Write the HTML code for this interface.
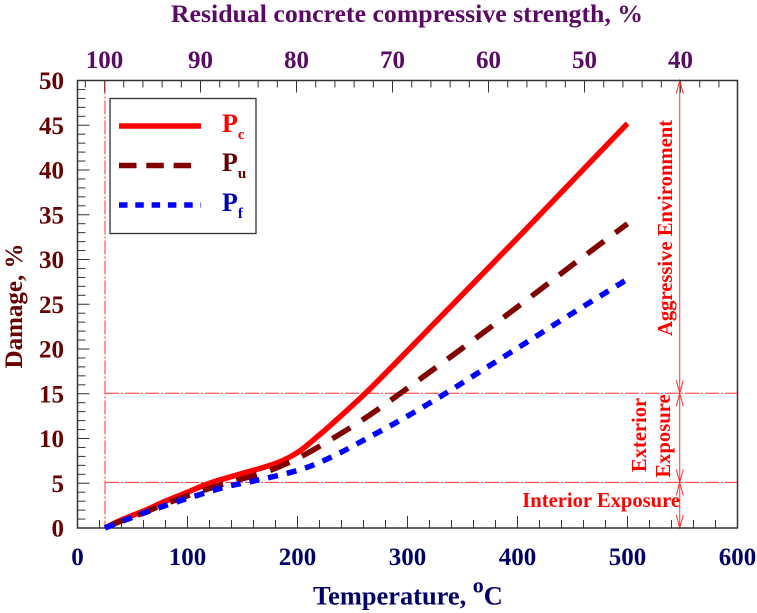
<!DOCTYPE html>
<html><head><meta charset="utf-8"><title>Damage vs temperature</title>
<style>html,body{margin:0;padding:0;background:#fff}svg{display:block;font-family:"Liberation Serif",serif;font-weight:bold}</style>
</head><body>
<svg id="chart" width="757" height="613" viewBox="0 0 757 613" xmlns="http://www.w3.org/2000/svg">
<g id="ticks"></g>
<g id="refs" fill="none" stroke="#ff3030" stroke-width="1"></g>
<rect x="77.5" y="80.5" width="660" height="447.5" fill="none" stroke="#333" stroke-width="1.5"/>
<g id="series" fill="none"></g>
<g id="labels" font-size="25"></g>
<text x="407" y="22" font-size="25.8" text-anchor="middle" fill="#5a0a64">Residual concrete compressive strength, %</text>
<text x="313" y="604.5" font-size="26.4" fill="#000066">Temperature, <tspan font-size="22" dy="-12">o</tspan><tspan dy="12">C</tspan></text>
<text transform="translate(22,306) rotate(-90)" font-size="25" text-anchor="middle" fill="#660000">Damage, %</text>
<text transform="translate(672,228) rotate(-90)" font-size="20.6" text-anchor="middle" fill="#ff0000">Aggressive Environment</text>
<text transform="translate(646,435) rotate(-90)" font-size="20.6" text-anchor="middle" fill="#ff0000">Exterior</text>
<text transform="translate(670,436) rotate(-90)" font-size="20.6" text-anchor="middle" fill="#ff0000">Exposure</text>
<text x="680" y="507" font-size="20.6" text-anchor="end" fill="#ff0000">Interior Exposure</text>
<g>
<rect x="110" y="98.5" width="146" height="135" fill="#fff" stroke="#333" stroke-width="1.3"/>
<line x1="119" y1="126" x2="201" y2="126" stroke="#ff0000" stroke-width="5.5"/>
<line x1="119" y1="165.5" x2="192" y2="165.5" stroke="#800000" stroke-width="5.5" stroke-dasharray="17.5 9.8"/>
<line x1="119" y1="205" x2="201" y2="205" stroke="#0000ff" stroke-width="5.5" stroke-dasharray="8.5 7.8"/>
<text x="222" y="132" font-size="26" fill="#ff0000">P<tspan font-size="15" dy="7">c</tspan></text>
<text x="222" y="171" font-size="26" fill="#660000">P<tspan font-size="15" dy="7">u</tspan></text>
<text x="222" y="211" font-size="26" fill="#0000b0">P<tspan font-size="15" dy="7">f</tspan></text>
</g>
</svg>
<script>
const temperatureC = [25, 40, 60, 80, 100, 120, 150, 170, 186, 202, 216, 232, 263, 300, 350, 400, 450, 500];
const seriesPc = [0, 0.9, 1.9, 3.0, 4.0, 5.0, 6.1, 6.8, 7.5, 8.6, 10.0, 11.7, 15.2, 19.8, 26.1, 32.4, 38.8, 45.2];
const temperaturePu = [25, 40, 60, 80, 100, 130, 172, 202, 232, 263, 293, 350, 400, 450, 500];
const seriesPu = [0, 0.8, 1.7, 2.7, 3.6, 4.8, 6.3, 7.9, 10.0, 12.4, 15.0, 20.1, 24.7, 29.4, 34.0];
const temperaturePf = [25, 50, 75, 105, 135, 160, 202, 232, 263, 300, 334, 365, 400, 450, 500];
const seriesPf = [0, 1.2, 2.3, 3.5, 4.6, 5.25, 6.5, 8.0, 10.0, 12.5, 15.0, 17.4, 20.1, 24.0, 27.8];
const xTicks = [0, 100, 200, 300, 400, 500, 600];
const yTicks = [0, 5, 10, 15, 20, 25, 30, 35, 40, 45, 50];
const topTicks = [100, 90, 80, 70, 60, 50, 40];
const limitLevels = [5.1, 15.05];
const exposureArrowTemp = 547.5;
const referenceTemp = 25;

const NS = 'http://www.w3.org/2000/svg';
const sx = t => 77.5 + t * 1.1;
const sy = v => 528 - v * 8.95;
const st = s => 104.5 + (100 - s) * 9.6;

function mk(parent, tag) {
  const el = document.createElementNS(NS, tag);
  parent.appendChild(el);
  return el;
}
function seg(parent, x1, y1, x2, y2) {
  const l = mk(parent, 'line');
  l.setAttribute('x1', x1); l.setAttribute('y1', y1);
  l.setAttribute('x2', x2); l.setAttribute('y2', y2);
  return l;
}
function label(parent, x, y, txt, fill, anchor) {
  const t = mk(parent, 'text');
  t.setAttribute('x', x); t.setAttribute('y', y);
  t.setAttribute('fill', fill); t.setAttribute('text-anchor', anchor);
  t.textContent = txt;
  return t;
}
const gt = document.getElementById('ticks');
gt.setAttribute('stroke', '#333');
gt.setAttribute('stroke-width', '1');
for (let t = 0; t <= 600; t += 20) {
  const major = t % 100 === 0;
  const l = seg(gt, sx(t), 528, sx(t), 528 - (major ? 12 : 8));
  
  
}
for (let v = 0; v <= 50; v += 1) {
  const major = v % 5 === 0;
  const l = seg(gt, 77.5, sy(v), 77.5 + (major ? 12 : 8), sy(v));
  
  
}
for (let s = 102; s >= 36; s -= 2) {
  const major = s % 10 === 0;
  const l = seg(gt, st(s), 80.5, st(s), 80.5 + (major ? 12 : 7));
  
  
}
const gl = document.getElementById('labels');
xTicks.forEach(t => {
  const e = label(gl, sx(t), 565, t, '#000066', 'middle');
  
  
});
yTicks.forEach(v => {
  const e = label(gl, 64, sy(v) + 8.5, v, '#660000', 'end');
  
  
});
topTicks.forEach(s => {
  const e = label(gl, st(s), 68, s, '#5a0a64', 'middle');
  
  
});
const gr = document.getElementById('refs');
const dash = '14 2 2 2';
const vr = seg(gr, sx(referenceTemp), 80.5, sx(referenceTemp), 528);
vr.setAttribute('stroke-dasharray', dash);


limitLevels.forEach(v => {
  const l = seg(gr, sx(referenceTemp), sy(v), 737, sy(v));
  l.setAttribute('stroke-dasharray', dash);
  
  
});
const ax = sx(exposureArrowTemp);
const shaft = seg(gr, ax, 80.5, ax, 528);


function head(yTip, dir) {
  const p = mk(gr, 'polyline');
  p.setAttribute('points', (ax - 3.5) + ',' + (yTip + dir * 13) + ' ' + ax + ',' + yTip + ' ' + (ax + 3.5) + ',' + (yTip + dir * 13));
  
  
}
head(80.5, 1);
limitLevels.forEach(v => { head(sy(v), 1); head(sy(v), -1); });
head(528, -1);

function curve(xs, ys) {
  const p = xs.map((t, i) => [sx(t), sy(ys[i])]);
  let d = 'M' + p[0][0] + ' ' + p[0][1];
  for (let i = 0; i < p.length - 1; i++) {
    const a = p[Math.max(i - 1, 0)], b = p[i], c = p[i + 1], e = p[Math.min(i + 2, p.length - 1)];
    d += ' C' + (b[0] + (c[0] - a[0]) / 6) + ' ' + (b[1] + (c[1] - a[1]) / 6) + ' ' +
         (c[0] - (e[0] - b[0]) / 6) + ' ' + (c[1] - (e[1] - b[1]) / 6) + ' ' + c[0] + ' ' + c[1];
  }
  return d;
}
const gs = document.getElementById('series');
const pc = mk(gs, 'path');
pc.setAttribute('d', curve(temperatureC, seriesPc));
pc.setAttribute('stroke', '#ff0000');
pc.setAttribute('stroke-width', '5.5');


const pu = mk(gs, 'path');
pu.setAttribute('d', curve(temperaturePu, seriesPu));
pu.setAttribute('stroke', '#800000');
pu.setAttribute('stroke-width', '5.5');
pu.setAttribute('stroke-dasharray', '21 14');


const pf = mk(gs, 'path');
pf.setAttribute('d', curve(temperaturePf, seriesPf));
pf.setAttribute('stroke', '#0000ff');
pf.setAttribute('stroke-width', '5.5');
pf.setAttribute('stroke-dasharray', '10 9');


</script>
</body></html>
